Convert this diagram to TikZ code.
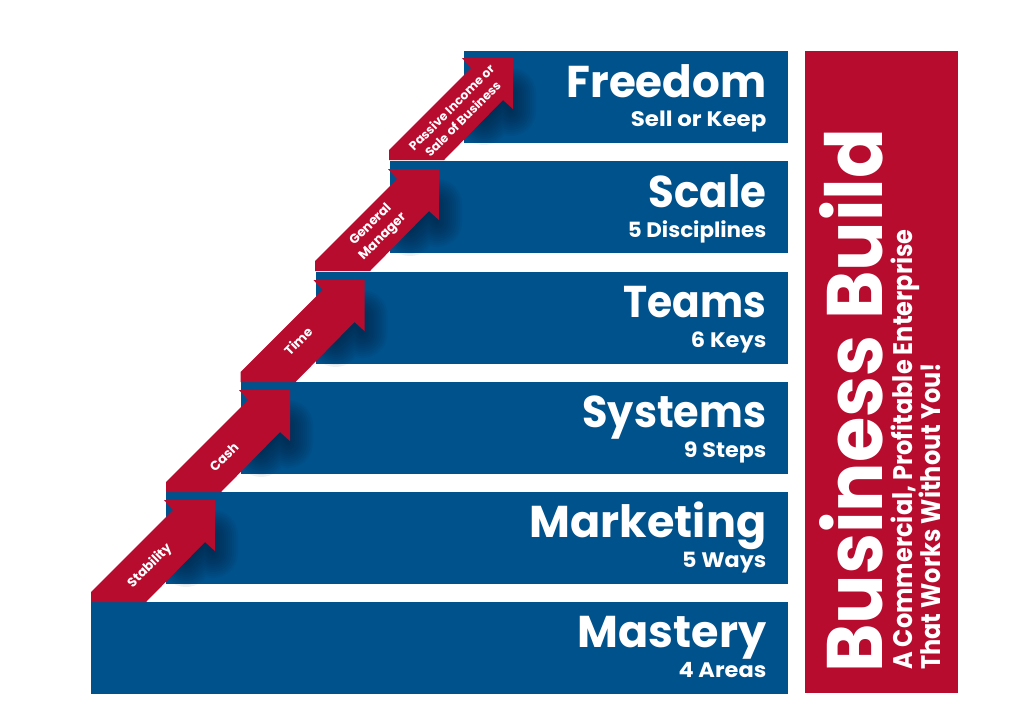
\documentclass[tikz,border=0pt]{standalone}
\usepackage{fontspec}
\usepackage{graphicx}
\setmainfont{Poppins}
\usetikzlibrary{calc}
\definecolor{barblue}{HTML}{00528C}
\definecolor{brandred}{HTML}{B80C2F}
\definecolor{shadowblue}{HTML}{001A33}
\newcommand{\subwide}[2][1.09]{\scalebox{#1}[1]{#2}}
\newcommand{\titlewide}[2]{\scalebox{#1}[1]{#2}}
\tikzset{
  x=1pt,y=-1pt,
  barbox/.style={fill=barblue,draw=none},
  arrowshape/.style={fill=brandred,draw=none},
  bigtitle/.style={anchor=base east,text=white,font=\fontsize{44.5}{44.5}\selectfont\bfseries,inner sep=0pt},
  subtitle/.style={anchor=base east,text=white,font=\fontsize{21}{21}\selectfont\bfseries,inner sep=0pt},
  arrowlabel/.style={text=white,font=\fontsize{13}{17}\selectfont\bfseries,rotate=45,align=center,inner sep=0pt},
  panellabel/.style={rotate=90,anchor=base west,text=white,inner sep=0pt,font=\fontsize{24}{25}\selectfont\bfseries},
}
\begin{document}
\begin{tikzpicture}
\useasboundingbox (0,0) rectangle (1024,724);
\fill[white] (0,0) rectangle (1024,724);
% bars
\foreach \name/\lx/\ty in {mastery/91/602,marketing/166/492,systems/241/382,teams/316/272,scale/390/161,freedom/464/51}{
  \path[barbox] (\lx,\ty) rectangle (788,\ty+91.5);
}
% panel
\node[fill=brandred,minimum width=153pt,minimum height=642pt,inner sep=0pt,anchor=north west] (panel) at (805,51) {};
% arrows
\foreach \dx/\dy in {0/0,75/-110,149.5/-220,224/-331,298/-442}{
  \begin{scope}[shift={(\dx,\dy)}]
    \begin{scope}
      \clip (166,495) rectangle (290,589);
      \foreach \w in {2,6,...,50}{
        \draw[shadowblue,opacity=.06,line width=\w pt,line cap=round,line join=round]
          (186,562)--(205,544)--(213,553)--(213,535);
      }
    \end{scope}
    \path[arrowshape] (91,602)--(91,592)--(173,510)--(164,500)--(215,500)--(215,551)--(205,542)--(146,602)--cycle;
  \end{scope}
}
% arrow labels
\node[arrowlabel] (a1) at (150,566) {Stability};
\node[arrowlabel] (a2) at (224,457) {Cash};
\node[arrowlabel] (a3) at (298,341) {Time};
\node[arrowlabel] (a4) at (377,231) {General\\Manager};
\node[arrowlabel,font=\fontsize{12.3}{16}\selectfont\bfseries] (a5) at (457,113) {Passive Income or\\Sale of Business};
% titles
\node[bigtitle] (t1) at (766.5,97) {\titlewide{.98}{Freedom}};
\node[subtitle] (s1) at (766.5,126.5) {\subwide{Sell or Keep}};
\node[bigtitle] (t2) at (766.5,207) {\titlewide{.94}{Scale}};
\node[subtitle] (s2) at (766.5,237) {\subwide[1.02]{5 Disciplines}};
\node[bigtitle] (t3) at (766.5,317) {\titlewide{.915}{Teams}};
\node[subtitle] (s3) at (766.5,347) {\subwide[1.07]{6 Keys}};
\node[bigtitle] (t4) at (766.5,427) {\titlewide{.93}{Systems}};
\node[subtitle] (s4) at (766.5,457) {\subwide[1.06]{9 Steps}};
\node[bigtitle] (t5) at (766.5,537) {Marketing};
\node[subtitle] (s5) at (766.5,567) {\subwide[1.06]{5 Ways}};
\node[bigtitle] (t6) at (766.5,647) {Mastery};
\node[subtitle] (s6) at (766.5,677.5) {\subwide[1.07]{4 Areas}};
% panel text
\node[rotate=90,anchor=base west,text=white,inner sep=0pt,font=\fontsize{73.5}{74}\selectfont\bfseries] (pt) at (882,673) {\scalebox{1}[1.07]{Business Build}};
\node[panellabel] (p1) at (912,670) {\scalebox{1}[1.12]{A Commercial, Profitable Enterprise}};
\node[panellabel] (p2) at (940,670) {\scalebox{1}[1.12]{That Works Without You!}};
\end{tikzpicture}
\end{document}
